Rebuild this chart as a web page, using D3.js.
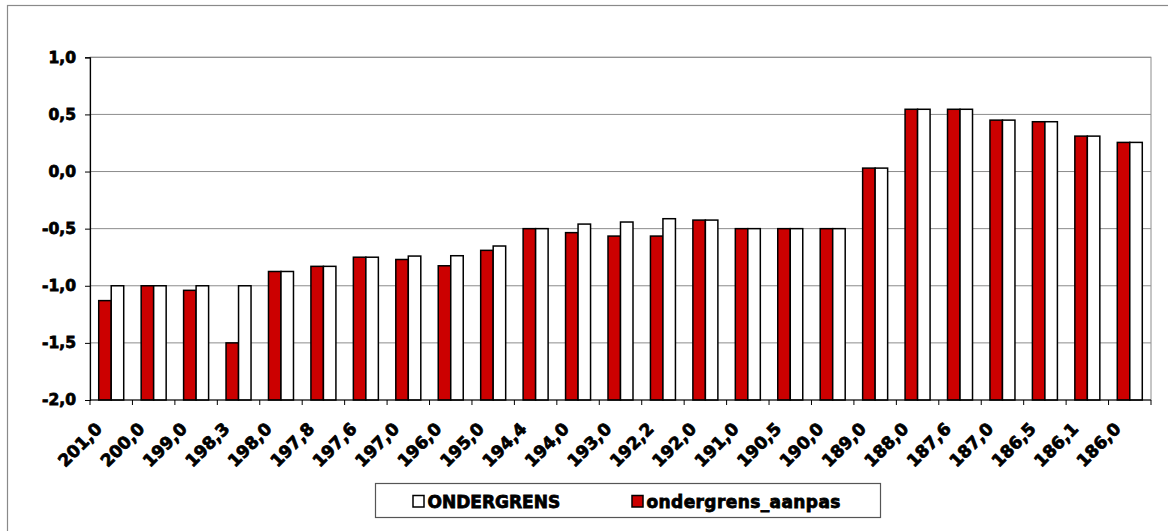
<!DOCTYPE html>
<html>
<head>
<meta charset="utf-8">
<script src="https://cdn.jsdelivr.net/npm/d3@7"></script>
<style>
  html, body { margin: 0; padding: 0; background: #ffffff; }
  svg { display: block; }
  text { font-family: "DejaVu Sans", sans-serif; font-weight: bold; fill: #000; stroke: #000; stroke-width: 0.8px; }
</style>
</head>
<body>
<svg id="chart" width="1168" height="531"></svg>
<script>
const categories = ["201,0","200,0","199,0","198,3","198,0","197,8","197,6","197,0","196,0","195,0",
  "194,4","194,0","193,0","192,2","192,0","191,0","190,5","190,0","189,0","188,0",
  "187,6","187,0","186,5","186,1","186,0"];
const ondergrensAanpas = [-1.13,-1.0,-1.04,-1.5,-0.875,-0.83,-0.75,-0.77,-0.825,-0.69,
  -0.5,-0.535,-0.565,-0.565,-0.425,-0.5,-0.5,-0.5,0.03,0.545,
  0.545,0.45,0.436,0.31,0.255];
const ondergrens = [-1.0,-1.0,-1.0,-1.0,-0.875,-0.83,-0.75,-0.74,-0.737,-0.652,
  -0.5,-0.46,-0.442,-0.413,-0.425,-0.5,-0.5,-0.5,0.03,0.545,
  0.545,0.45,0.436,0.31,0.255];
const yTicks = [-2.0,-1.5,-1.0,-0.5,0.0,0.5,1.0];
const seriesNames = ["ondergrens_aanpas","ONDERGRENS"];
const legendNames = ["ONDERGRENS","ondergrens_aanpas"];

const RED = "#cc0000";
const svg = d3.select("#chart");
const L = 90, R = 1151, T = 57.3, B = 400;

// outer chart border
svg.append("rect").attr("x", 7.5).attr("y", 5.5).attr("width", 1200).attr("height", 600)
  .attr("fill", "none").attr("stroke", "#8a8a8a").attr("stroke-width", 1.2);

const y = d3.scaleLinear().domain([-2, 1]).range([B, T]);
const x0 = d3.scaleBand().domain(categories).range([L, R]).paddingInner(0.411).paddingOuter(0.2055);
const x1 = d3.scaleBand().domain(seriesNames).range([0, x0.bandwidth()]);

// plot area border (grey)
svg.append("rect").attr("x", L).attr("y", T).attr("width", R - L).attr("height", B - T)
  .attr("fill", "none").attr("stroke", "#8c8c8c").attr("stroke-width", 1);

// gridlines
svg.append("g").selectAll("line").data(yTicks.filter(d => d > -2)).join("line")
  .attr("x1", L).attr("x2", R).attr("y1", d => y(d)).attr("y2", d => y(d))
  .attr("stroke", "#8c8c8c").attr("stroke-width", 1);

// y axis
const fmt = d => d3.format(".1f")(d).replace(".", ",").replace("−", "-");
const yAxis = d3.axisLeft(y).tickValues(yTicks).tickSize(5).tickPadding(9).tickFormat(fmt);
const gy = svg.append("g").attr("transform", `translate(${L},0)`).call(yAxis);
gy.select(".domain").attr("stroke", "#000").attr("stroke-width", 1.2);
gy.selectAll(".tick line").attr("stroke", "#000");
gy.selectAll(".tick text").style("font-size", "15.5px").attr("font-family", null).attr("font-weight", "bold");

// bars (grow up from the bottom of the axis, as in the original)
const base = y.domain()[0];
const groups = svg.append("g").selectAll("g").data(categories).join("g")
  .attr("transform", d => `translate(${x0(d)},0)`);
groups.append("rect")
  .attr("x", x1("ondergrens_aanpas")).attr("width", x1.bandwidth())
  .attr("y", (d, i) => y(ondergrensAanpas[i]))
  .attr("height", (d, i) => y(base) - y(ondergrensAanpas[i]))
  .attr("fill", RED).attr("stroke", "#000").attr("stroke-width", 1.5);
groups.append("rect")
  .attr("x", x1("ONDERGRENS")).attr("width", x1.bandwidth())
  .attr("y", (d, i) => y(ondergrens[i]))
  .attr("height", (d, i) => y(base) - y(ondergrens[i]))
  .attr("fill", "#fff").attr("stroke", "#000").attr("stroke-width", 1.5);

// x axis at bottom (-2.0)
svg.append("line").attr("x1", L).attr("x2", R).attr("y1", B).attr("y2", B)
  .attr("stroke", "#000").attr("stroke-width", 1.2);
const step = x0.step();
const boundaries = d3.range(categories.length + 1).map(i => L + i * step);
svg.append("g").selectAll("line").data(boundaries).join("line")
  .attr("x1", d => d).attr("x2", d => d).attr("y1", B).attr("y2", B + 5)
  .attr("stroke", "#000").attr("stroke-width", 1);
svg.append("g").selectAll("text").data(categories).join("text")
  .attr("transform", d => `translate(${x0(d) + x0.bandwidth() / 2 - 8},430) rotate(-45)`)
  .attr("text-anchor", "end").style("font-size", "17px").text(d => d);

// legend
const lg = svg.append("g");
lg.append("rect").attr("x", 375.5).attr("y", 483.5).attr("width", 505).attr("height", 34)
  .attr("fill", "#fff").attr("stroke", "#555").attr("stroke-width", 1.2);
const legendX = [413, 632];
const legendFill = ["#fff", RED];
legendNames.forEach((name, i) => {
  lg.append("rect").attr("x", legendX[i]).attr("y", 495.5).attr("width", 11).attr("height", 11.5)
    .attr("fill", legendFill[i]).attr("stroke", "#000").attr("stroke-width", 1.5);
  lg.append("text").attr("x", legendX[i] + 14.5).attr("y", 507.5).style("font-size", "17px")
    .style("letter-spacing", i === 1 ? "0.4px" : "0px").text(name);
});
</script>
</body>
</html>
